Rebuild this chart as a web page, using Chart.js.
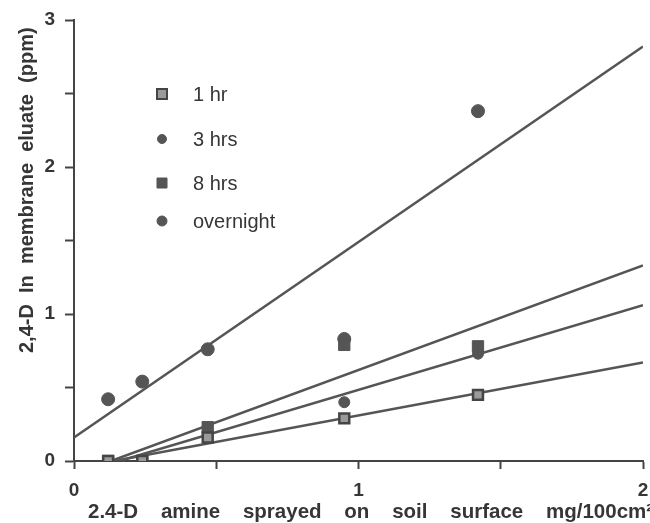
<!DOCTYPE html>
<html>
<head>
<meta charset="utf-8">
<script src="https://cdn.jsdelivr.net/npm/chart.js@4"></script>
<style>
  html, body { margin: 0; padding: 0; background: #fff; }
  canvas { display: block; }
</style>
</head>
<body>
<canvas id="chart" width="650" height="523"></canvas>
<script>
// Amount of 2,4-D amine sprayed (mg/100cm²)
const doses = [0.12, 0.24, 0.47, 0.95, 1.42];

// 2,4-D recovered in membrane eluate (ppm) per contact time
const oneHr     = [0, 0, 0.16, 0.29, 0.45];
const threeHrs  = [0, 0, 0.19, 0.40, 0.73];
const eightHrs  = [0, 0, 0.23, 0.79, 0.78];
const overnight = [0.42, 0.54, 0.76, 0.83, 2.38];

// Fitted straight lines: [x, y] at each end
const fitOneHr     = [[0.14, 0], [2, 0.67]];
const fitThreeHrs  = [[0.16, 0], [2, 1.06]];
const fitEightHrs  = [[0.13, 0], [2, 1.33]];
const fitOvernight = [[0, 0.16], [2, 2.82]];

const seriesNames = ['1 hr', '3 hrs', '8 hrs', 'overnight'];
const xTitle = '2.4-D    amine    sprayed    on    soil    surface    mg/100cm\u00B2';
const yTitle = '2,4-D  In  membrane  eluate  (ppm)';

const INK = '#363636';
const MARK = '#555555';
const FONT = '"Liberation Sans", Arial, Helvetica, sans-serif';

const toPoints = (ys) => ys.map((y, i) => ({ x: doses[i], y }));
const toLine = (seg) => seg.map(([x, y]) => ({ x, y }));

const markerStyles = [
  { pointStyle: 'rect',   pointRadius: 7,   backgroundColor: '#9a9a9a', borderColor: '#454545', borderWidth: 2.5, keySize: 5 },
  { pointStyle: 'circle', pointRadius: 5.5, backgroundColor: MARK, borderColor: MARK, borderWidth: 1, keySize: 4.5 },
  { pointStyle: 'rect',   pointRadius: 8,   backgroundColor: MARK, borderColor: MARK, borderWidth: 1, keySize: 5 },
  { pointStyle: 'circle', pointRadius: 6.5, backgroundColor: MARK, borderColor: MARK, borderWidth: 1, keySize: 5 }
];

const pointSeries = [oneHr, threeHrs, eightHrs, overnight];
const fitSeries = [fitOneHr, fitThreeHrs, fitEightHrs, fitOvernight];

const datasets = [];
fitSeries.forEach((seg, i) => {
  datasets.push({
    type: 'line',
    label: seriesNames[i] + ' fit',
    data: toLine(seg),
    showLine: true,
    borderColor: MARK,
    borderWidth: 2.5,
    pointRadius: 0,
    fill: false,
    order: 2
  });
});
pointSeries.forEach((ys, i) => {
  const s = markerStyles[i];
  datasets.push({
    type: 'scatter',
    label: seriesNames[i],
    data: toPoints(ys),
    showLine: false,
    order: 1,
    pointStyle: s.pointStyle,
    pointRadius: s.pointRadius,
    backgroundColor: s.backgroundColor,
    borderColor: s.borderColor,
    borderWidth: s.borderWidth
  });
});

// Axis titles and the in-plot key
const decorations = {
  id: 'decorations',
  afterDraw(chart) {
    const ctx = chart.ctx;
    ctx.save();
    ctx.fillStyle = INK;
    ctx.font = 'bold 20.5px ' + FONT;
    ctx.textAlign = 'left';
    ctx.textBaseline = 'alphabetic';
    ctx.fillText(xTitle, 88, 518);

    ctx.save();
    ctx.font = 'bold 20px ' + FONT;
    ctx.translate(33, 353);
    ctx.rotate(-Math.PI / 2);
    ctx.fillText(yTitle, 0, 0);
    ctx.restore();

    const rows = [94, 139, 183, 221];
    const mx = 162;
    ctx.font = '20px ' + FONT;
    ctx.textBaseline = 'middle';
    rows.forEach((y, i) => {
      const s = markerStyles[i];
      const r = s.keySize;
      ctx.fillStyle = s.backgroundColor;
      ctx.strokeStyle = s.borderColor;
      ctx.lineWidth = s.pointStyle === 'rect' && i === 0 ? 2 : 1;
      ctx.beginPath();
      if (s.pointStyle === 'rect') {
        ctx.rect(mx - r, y - r, 2 * r, 2 * r);
      } else {
        ctx.arc(mx, y, r, 0, Math.PI * 2);
      }
      ctx.fill();
      ctx.stroke();
      ctx.fillStyle = INK;
      ctx.fillText(seriesNames[i], 193, y + 1);
    });
    ctx.restore();
  }
};

const integerLabel = (v) => (Number.isInteger(v) ? String(v) : '');

new Chart(document.getElementById('chart'), {
  type: 'scatter',
  data: { datasets },
  options: {
    responsive: false,
    devicePixelRatio: 1,
    animation: false,
    layout: { autoPadding: false, padding: { top: 20, right: 7, left: 0, bottom: 0 } },
    plugins: {
      legend: { display: false },
      tooltip: { enabled: false },
      title: { display: false }
    },
    scales: {
      x: {
        type: 'linear',
        min: 0,
        max: 2,
        afterFit: (s) => { s.height = 62; s.paddingLeft = 0; s.paddingRight = 0; },
        ticks: {
          stepSize: 0.5,
          callback: integerLabel,
          color: INK,
          font: { family: FONT, size: 19, weight: 'bold' },
          padding: 10,
          maxRotation: 0
        },
        grid: { drawOnChartArea: false, drawTicks: true, tickLength: 8, tickColor: '#444', tickWidth: 2 },
        border: { display: true, color: '#444', width: 2 }
      },
      y: {
        type: 'linear',
        min: 0,
        max: 3,
        afterFit: (s) => { s.width = 74; s.paddingTop = 0; s.paddingBottom = 0; },
        ticks: {
          stepSize: 0.5,
          callback: integerLabel,
          color: INK,
          font: { family: FONT, size: 19, weight: 'bold' },
          padding: 10
        },
        grid: { drawOnChartArea: false, drawTicks: true, tickLength: 9, tickColor: '#444', tickWidth: 2 },
        border: { display: true, color: '#444', width: 2 }
      }
    }
  },
  plugins: [decorations]
});
</script>
</body>
</html>
